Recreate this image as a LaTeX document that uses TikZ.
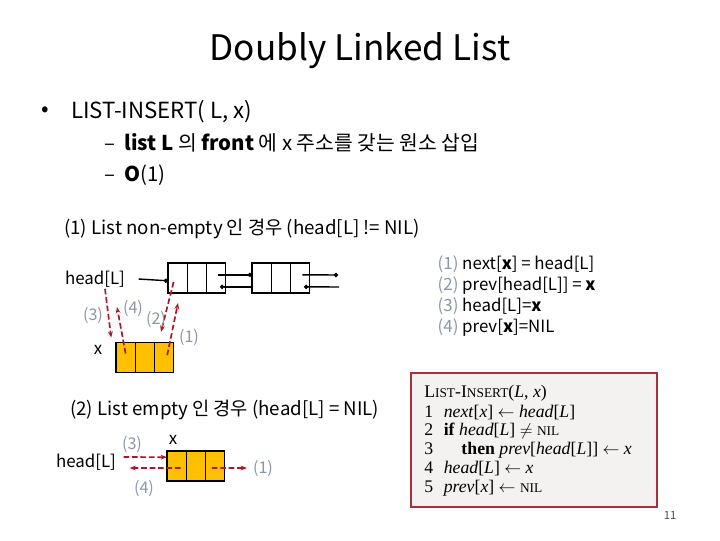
\documentclass[tikz,border=0pt]{standalone}
\usepackage{fontspec}
\setmainfont{Noto Sans CJK KR}
\newfontfamily\codefont{Liberation Serif}
\usetikzlibrary{arrows.meta, positioning}
\definecolor{cellorange}{HTML}{FFC000}
\definecolor{ptrred}{HTML}{B0142C}
\definecolor{labelgrey}{HTML}{8A96A8}
\definecolor{boxred}{HTML}{A8323C}
\definecolor{paper}{HTML}{F3F2F0}

\begin{document}
\begin{tikzpicture}[
  x=0.025cm, y=-0.025cm,
  cell/.style={rectangle, draw, line width=1pt, minimum width=0.48cm, minimum height=0.75cm, inner sep=0pt, outer sep=0pt},
  newcell/.style={cell, fill=cellorange},
  ptr/.style={-{Circle[length=3pt]}, line width=1pt},
  link/.style={-{Stealth[length=4.5pt]}, ptrred, line width=1.2pt, dash pattern=on 4pt off 2pt},
  lbl/.style={font=\fontsize{11.5}{13}\selectfont, text=labelgrey, inner sep=1pt},
  txt/.style={font=\fontsize{12}{14}\selectfont, inner sep=1pt},
  casetxt/.style={font=\fontsize{13.3}{15}\selectfont, inner sep=0pt, anchor=west},
  codebox/.style={rectangle, draw=boxred, line width=1.2pt, fill=paper, minimum width=6.15cm, minimum height=3.35cm}
]
\useasboundingbox (0,0) rectangle (720,540);

% Title and bullets
\node[font=\fontsize{25}{28}\selectfont] (title) at (360,51) {Doubly Linked List};
\node[font=\fontsize{16}{20}\selectfont] (bullet) at (45,112) {•};
\node[font=\fontsize{15.8}{20}\selectfont, anchor=west, inner sep=0pt] (insert) at (71,112) {LIST-INSERT( L, x)};
\node[font=\fontsize{14.5}{17}\selectfont, anchor=west, inner sep=0pt] (sub1) at (104,143) {–\hspace{0.45em}\textbf{list L} 의 \textbf{front} 에 x 주소를 갖는 원소 삽입};
\node[font=\fontsize{14.5}{17}\selectfont, anchor=west, inner sep=0pt] (sub2) at (104,175) {–\hspace{0.45em}\textbf{O}(1)};

% Case 1: non-empty list
\node[casetxt] (case1) at (64,229) {(1) List non-empty 인 경우 (head[L] != NIL)};
\node[txt] (head1) at (95,279) {head[L]};

\node[cell] (a1) at (177.6,278) {};
\node[cell, right=0 of a1] (a2) {};
\node[cell, right=0 of a2] (a3) {};
\node[cell] (b1) at (261.6,278) {};
\node[cell, right=0 of b1] (b2) {};
\node[cell, right=0 of b2] (b3) {};
\coordinate (nxt) at (338,275);
\coordinate (prv) at (339,287);

\draw[ptr] ([xshift=0.3cm]head1.east) -- ([yshift=-0.07cm]a1.west);
\draw[ptr] ([xshift=0.06cm,yshift=0.08cm]a3.center) -- ([yshift=0.08cm]b1.west);
\draw[ptr] ([yshift=-0.22cm]b1.west) -- ([xshift=0.1cm,yshift=-0.22cm]a3.center);
\draw[ptr] ([xshift=0.06cm,yshift=0.08cm]b3.center) -- (nxt);
\draw[ptr] (prv) -- ([xshift=0.1cm,yshift=-0.22cm]b3.center);

% new node x
\node[newcell] (x1) at (125.6,357.5) {};
\node[newcell, right=0 of x1] (x2) {};
\node[newcell, right=0 of x2] (x3) {};
\node[txt] (xname1) at (98,350) {x};

\coordinate (p4) at (117,307);
\coordinate (p2) at (161,332);
\coordinate (p1) at (178,303);
\draw[link] ([xshift=0.25cm]head1.south) -- ([xshift=-0.12cm,yshift=0.12cm]x1.north west);
\draw[link] ([yshift=0.1cm]x1.center) -- (p4);
\draw[link] ([xshift=-0.1cm,yshift=-0.1cm]a1.center) -- (p2);
\draw[link] ([xshift=0.08cm,yshift=0.06cm]x3.center) -- (p1);

\node[lbl] (l3) at (93,315) {(3)};
\node[lbl] (l4) at (133,308) {(4)};
\node[lbl] (l2) at (156,319) {(2)};
\node[lbl] (l1) at (189,337) {(1)};

% Steps
\node[txt, anchor=north west, align=left, font=\fontsize{12}{14.9}\selectfont] (steps) at (436,254) {%
\textcolor{labelgrey}{(1)} next[\textbf{x}] = head[L]\\
\textcolor{labelgrey}{(2)} prev[head[L]] = \textbf{x}\\
\textcolor{labelgrey}{(3)} head[L]=\textbf{x}\\
\textcolor{labelgrey}{(4)} prev[\textbf{x}]=NIL};

% Case 2: empty list
\node[casetxt] (case2) at (70,410) {(2) List empty 인 경우 (head[L] = NIL)};
\node[txt] (head2) at (86,462) {head[L]};
\node[newcell] (e1) at (176.6,466) {};
\node[newcell, right=0 of e1] (e2) {};
\node[newcell, right=0 of e2] (e3) {};
\node[txt] (xname2) at (173,440) {x};
\coordinate (q1) at (247,468);

\draw[link] ([xshift=0.15cm,yshift=0.125cm]head2.east) -- ([yshift=0.22cm]e1.west);
\draw[link] ([xshift=0.1cm,yshift=-0.05cm]e1.center) -- ([xshift=0.3cm,yshift=-0.15cm]head2.east);
\draw[link] ([xshift=-0.08cm,yshift=-0.05cm]e3.center) -- (q1);

\node[lbl] (m3) at (132,444) {(3)};
\node[lbl] (m4) at (144,488) {(4)};
\node[lbl] (m1) at (263,468) {(1)};

% Pseudocode
\node[codebox] (algo) at (534,440) {};
\node[anchor=north west, inner sep=0pt, align=left, font=\codefont\fontsize{12.6}{13.4}\selectfont] (code) at (424,384) {%
\begin{tabular}{@{}l@{\hspace{0.6em}}l@{}}
\multicolumn{2}{@{}l}{L{\fontsize{9.5}{10}\selectfont IST}-I{\fontsize{9.5}{10}\selectfont NSERT}(\textit{L}, \textit{x})}\\[0.5pt]
1 & \textit{next}[\textit{x}] $\leftarrow$ \textit{head}[\textit{L}]\\
2 & \textbf{if} \textit{head}[\textit{L}] $\neq$ {\fontsize{9.5}{10}\selectfont NIL}\\
3 & \quad\textbf{then} \textit{prev}[\textit{head}[\textit{L}]] $\leftarrow$ \textit{x}\\
4 & \textit{head}[\textit{L}] $\leftarrow$ \textit{x}\\
5 & \textit{prev}[\textit{x}] $\leftarrow$ {\fontsize{9.5}{10}\selectfont NIL}
\end{tabular}};

\node[font=\fontsize{8}{9}\selectfont, text=black!70] (page) at (670,515) {11};

\end{tikzpicture}
\end{document}
